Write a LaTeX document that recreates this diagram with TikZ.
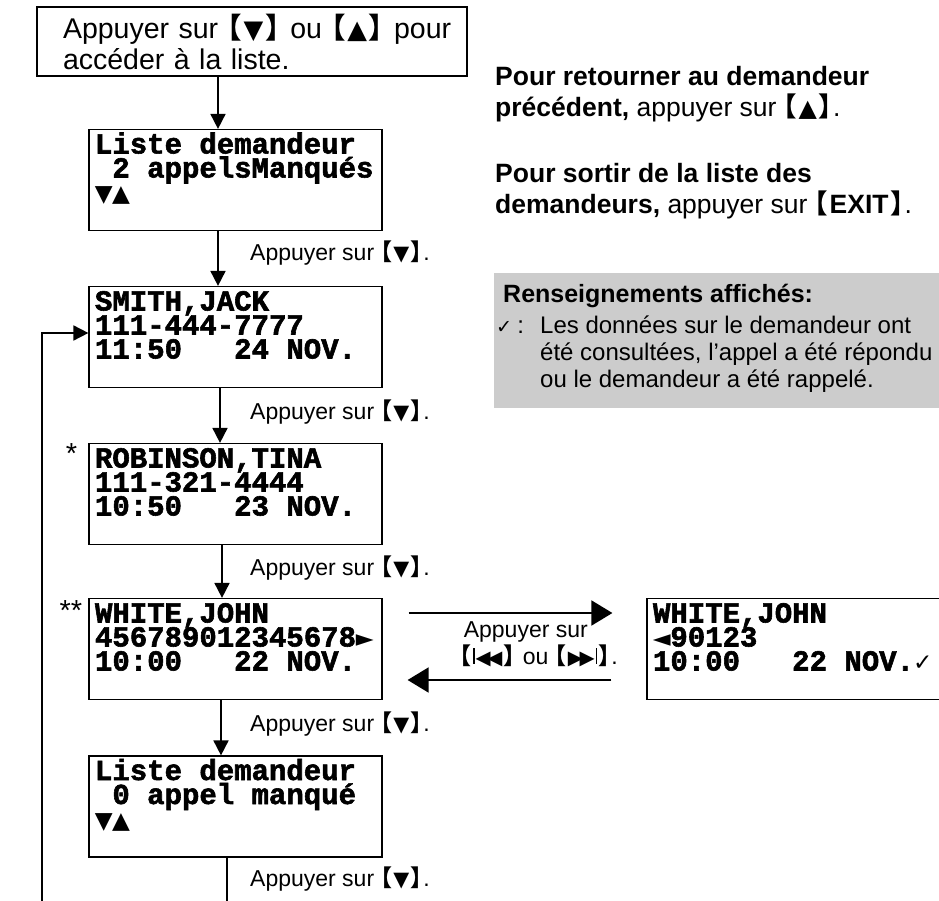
\documentclass[tikz,border=0pt]{standalone}
\usepackage{fontspec}
\setmainfont{Liberation Sans}
\newfontfamily\lcdfont[BoldFeatures={FakeBold=2}]{Liberation Mono}
\newfontfamily\dejavu{DejaVu Sans}
\newfontfamily\cjkfont{Noto Sans CJK JP}
\usetikzlibrary{arrows.meta}

% key brackets and key symbols
\newcommand{\kb}[1]{{\cjkfont\bfseries\kern-.5em【\kern.06em}#1{\cjkfont\bfseries\kern.06em】\kern-.45em}}
\newcommand{\dnkey}{\kb{{\dejavu\scalebox{.9}{▼}}}}
\newcommand{\upkey}{\kb{{\dejavu\scalebox{.9}{▲}}}}
\newcommand{\prevkey}{{\dejavu\rule[.02em]{.08em}{.68em}\kern.04em\scalebox{.85}{◀}\kern-.14em\scalebox{.85}{◀}}}
\newcommand{\nextkey}{{\dejavu\scalebox{.85}{▶}\kern-.14em\scalebox{.85}{▶}\kern.04em\rule[.02em]{.08em}{.68em}}}
% display text
\newcommand{\lcdsym}[1]{\makebox[.6em]{\dejavu\scalebox{.8}{#1}}}
\newcommand{\lcdtext}[1]{\parbox[t][101pt][t]{281pt}{\lcdfont\bfseries\fontsize{29}{24}\selectfont\lineskiplimit=-50pt\rule{0pt}{24pt}#1}}

\begin{document}
\begin{tikzpicture}[x=1pt,y=-1pt,
  screen/.style={draw,line width=1.2pt,inner xsep=6pt,inner ysep=0pt},
  flow/.style={line width=1.8pt,-{Triangle[length=15pt,width=15pt]}},
  seek/.style={line width=1.8pt,-{Triangle[length=21pt,width=25pt]}},
  press/.style={anchor=base west,inner sep=0pt,font=\fontsize{23}{27}\selectfont},
  note/.style={anchor=base west,align=left,inner sep=0pt,font=\fontsize{26.5}{31}\selectfont}]
\useasboundingbox (0,0) rectangle (939,901);

\node[draw,line width=1.2pt,minimum height=69pt,text width=378pt,inner xsep=26pt,inner ysep=0pt,align=left,font=\fontsize{28.5}{31}\selectfont] (intro) at (252,41.5) {\mbox{Appuyer sur \dnkey{} ou \upkey{} pour}\\accéder à la liste.};

\node[screen] (list) at (235.5,180) {\lcdtext{Liste demandeur\\\hspace*{.6em}2 appelsManqués\\\lcdsym{▼}\lcdsym{▲}}};
\node[screen] (smith) at (235.5,337) {\lcdtext{SMITH,JACK\\111-444-7777\\11:50~~~24 NOV.}};
\node[screen] (robinson) at (235.5,494) {\lcdtext{ROBINSON,TINA\\111-321-4444\\10:50~~~23 NOV.}};
\node[screen] (white) at (235.5,649) {\lcdtext{WHITE,JOHN\\456789012345678\lcdsym{►}\\10:00~~~22 NOV.}};
\node[screen] (listend) at (235.5,806.5) {\lcdtext{Liste demandeur\\\hspace*{.6em}0 appel manqué\\\lcdsym{▼}\lcdsym{▲}}};
\node[screen] (whitemore) at (793.5,649) {\lcdtext{WHITE,JOHN\\\lcdsym{◄}90123\\10:00~~~22 NOV.\lcdsym{✓}}};

\node[anchor=north east,inner sep=0pt,font=\fontsize{29}{29}\selectfont] (star) at ([xshift=-11pt]robinson.north west) {*};
\node[anchor=north east,inner sep=0pt,font=\fontsize{29}{29}\selectfont] (stars) at ([xshift=-6pt,yshift=-2pt]white.north west) {**};

% down the list
\draw[flow] ([xshift=-34pt]intro.south) -- ([xshift=-17.5pt]list.north);
\draw[flow] ([xshift=-17.5pt]list.south) -- ([xshift=-17.5pt]smith.north);
\draw[flow] ([xshift=-15.5pt]smith.south) -- ([xshift=-15.5pt]robinson.north);
\draw[flow] ([xshift=-13.5pt]robinson.south) -- ([xshift=-13.5pt]white.north);
\draw[flow] ([xshift=-14.5pt]white.south) -- ([xshift=-14.5pt]listend.north);
\coordinate (down) at (227,905);
\coordinate (loopfoot) at (42,905);
\draw[line width=1.8pt] ([xshift=-8.5pt]listend.south) -- (down);
\draw[flow] (loopfoot) |- ([yshift=4pt]smith.west);

\node[press] (p1) at (250,261) {Appuyer sur \dnkey.};
\node[press] (p2) at (250,419) {Appuyer sur \dnkey.};
\node[press] (p3) at (250,575) {Appuyer sur \dnkey.};
\node[press] (p4) at (250,731) {Appuyer sur \dnkey.};
\node[press] (p5) at (250,886) {Appuyer sur \dnkey.};

% scroll the number
\draw[seek] ([xshift=26pt,yshift=36pt]white.east) -- ([xshift=-34pt,yshift=36pt]whitemore.west);
\draw[seek] ([xshift=-35pt,yshift=-31pt]whitemore.west) -- ([xshift=25pt,yshift=-31pt]white.east);
\node[press,anchor=base east,align=right] (seeknote) at (618,664) {Appuyer sur\hspace*{30pt}\\\kb{\prevkey} ou \kb{\nextkey}.};

\node[note] (prevnote) at (495,117) {\textbf{Pour retourner au demandeur}\\\textbf{précédent,} appuyer sur \upkey.};
\node[note] (exitnote) at (495,214) {\textbf{Pour sortir de la liste des}\\\textbf{demandeurs,} appuyer sur \kb{\textbf{EXIT}}.};

\node[fill=black!20,inner sep=0pt,anchor=north west] (info) at (494,273) {\parbox[t][135pt][t]{446pt}{\fontsize{24}{27}\selectfont\rule{0pt}{29pt}\hspace*{9pt}{\fontsize{25}{27}\selectfont\bfseries Renseignements affichés:}\par\vspace{4pt}
\hangindent=46pt\hangafter=1\makebox[46pt][l]{\hspace{2pt}{\dejavu\scalebox{.8}{✓}}\hspace{5pt}:}Les données sur le demandeur ont\\été consultées, l’appel a été répondu\\ou le demandeur a été rappelé.}};
\end{tikzpicture}
\end{document}
